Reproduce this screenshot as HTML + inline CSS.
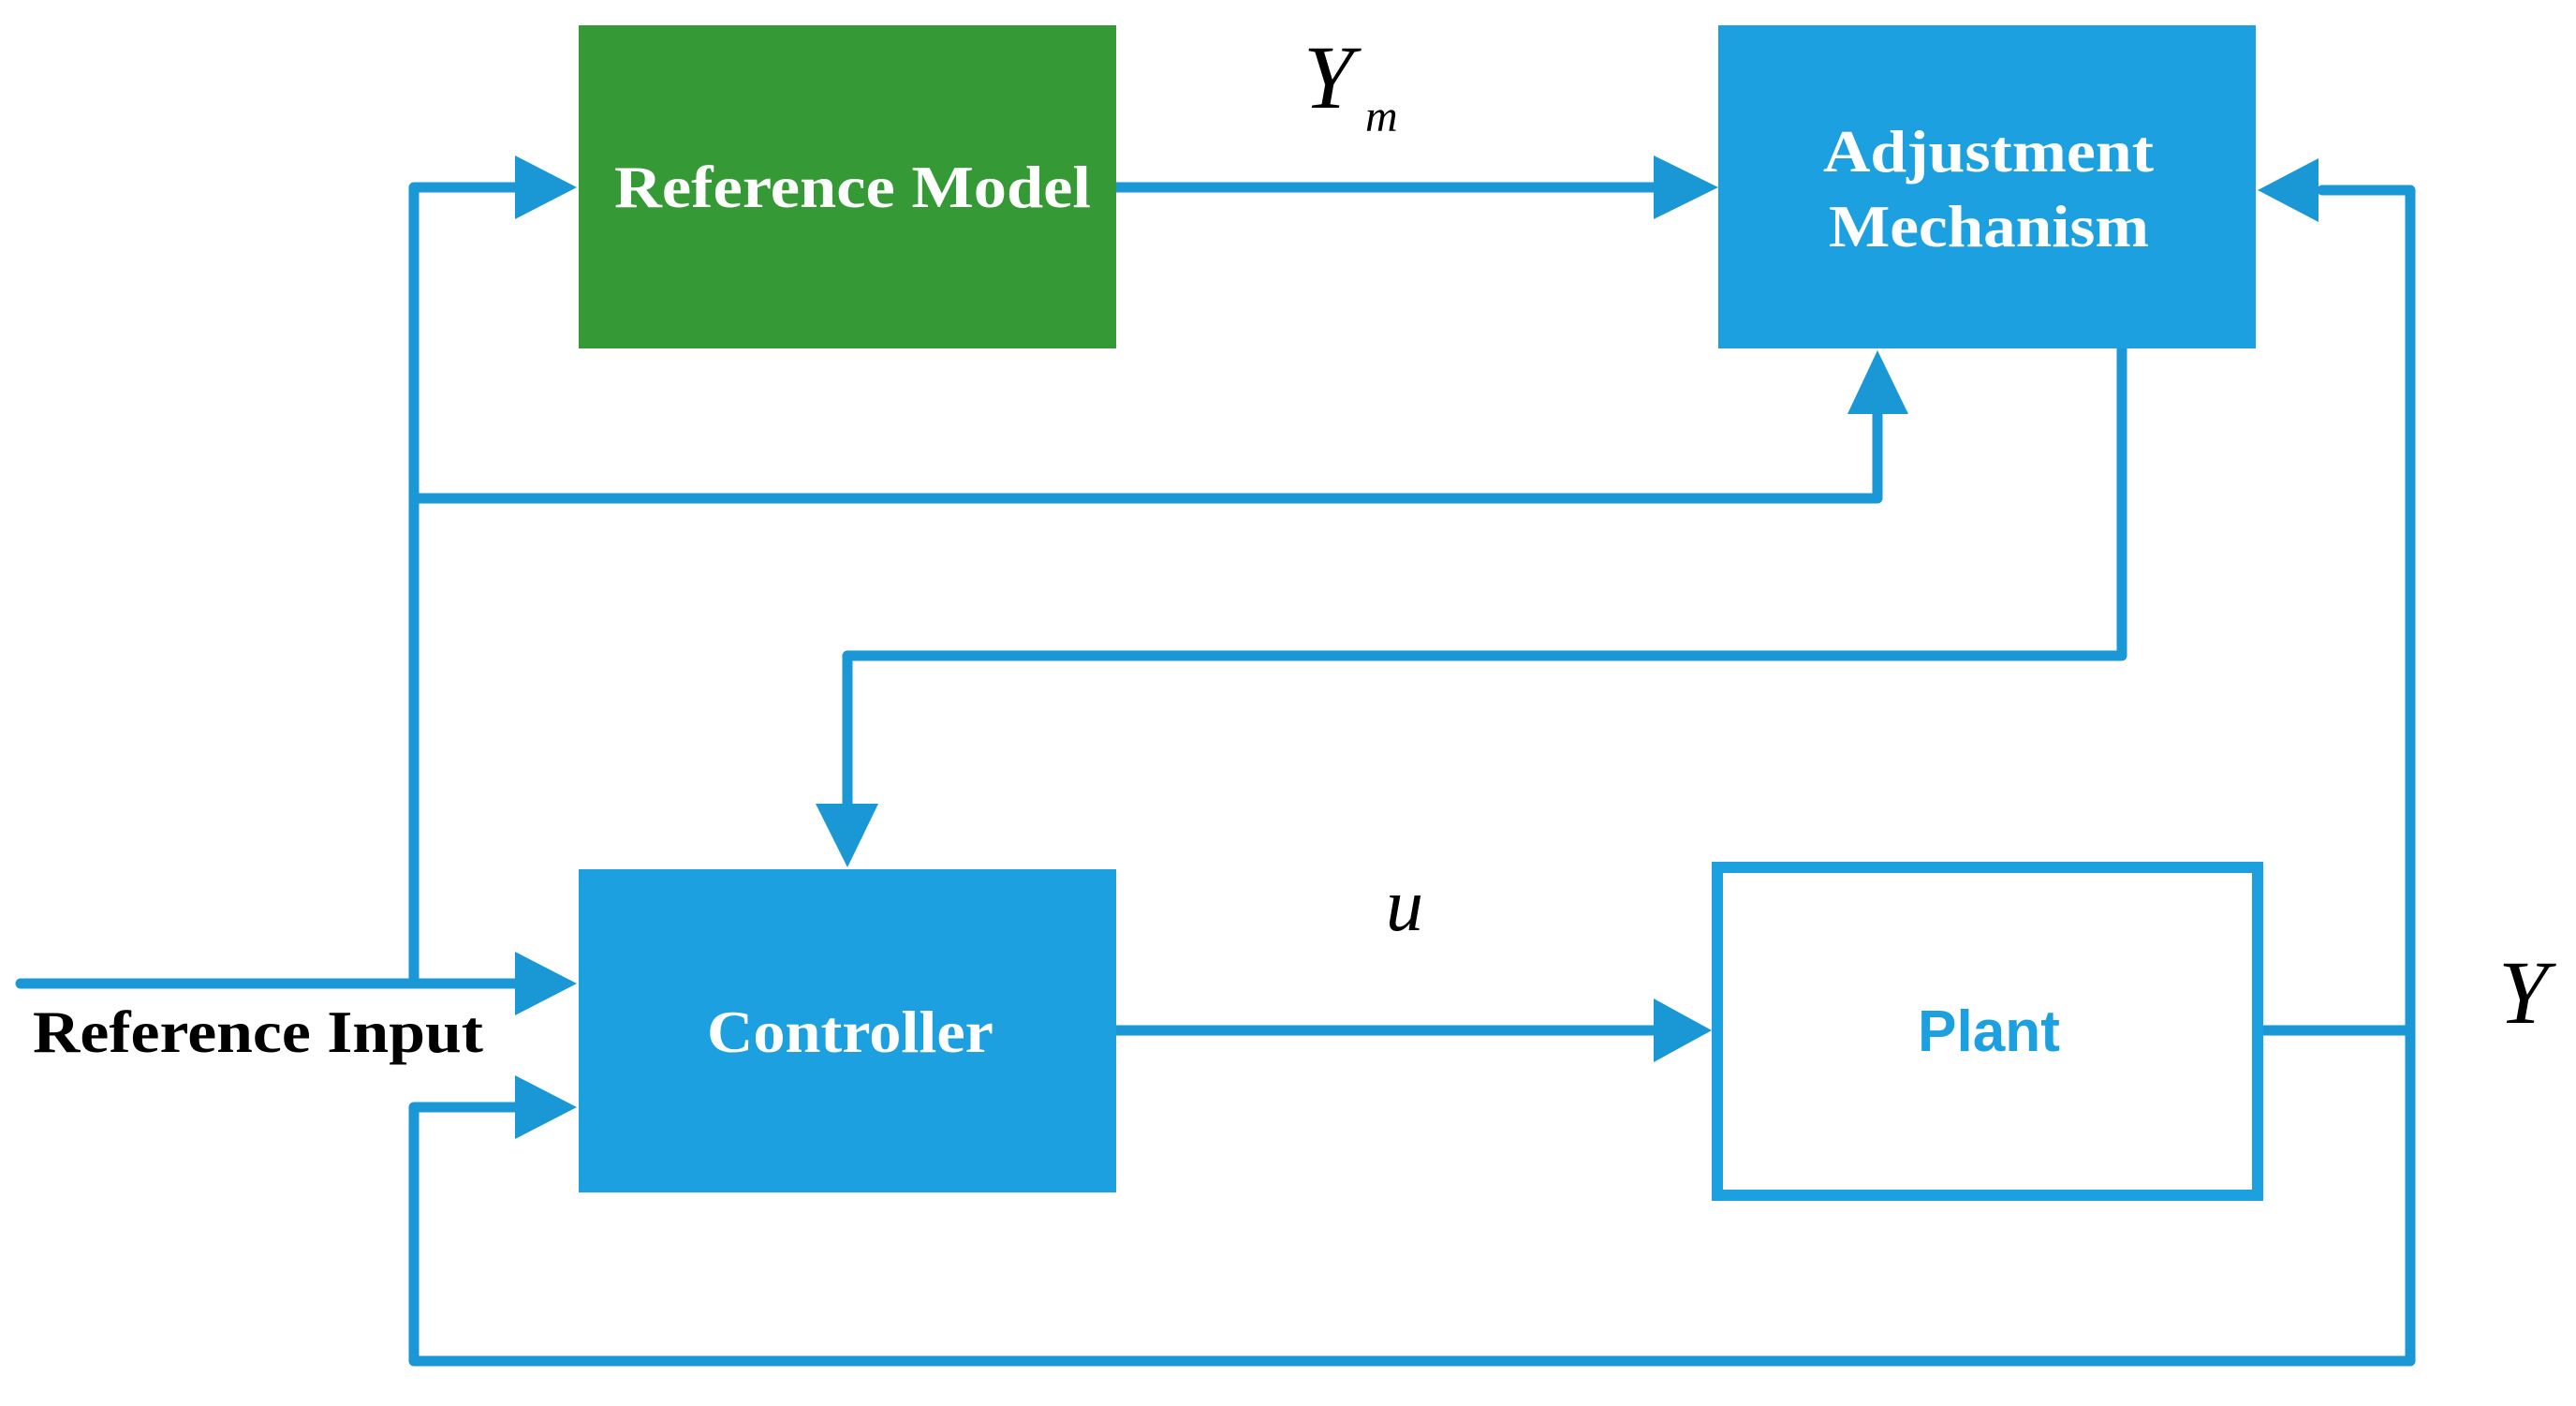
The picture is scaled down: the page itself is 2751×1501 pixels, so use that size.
<!DOCTYPE html>
<html><head><meta charset="utf-8"><style>html,body{margin:0;padding:0;background:#fff}svg{display:block}</style></head>
<body>
<svg width="2751" height="1501" viewBox="0 0 2751 1501" xmlns="http://www.w3.org/2000/svg">
<g fill="none" stroke="#1a98d5" stroke-width="11" stroke-linejoin="round" stroke-linecap="round">
<!-- left vertical from ref model arrow down to input -->
<polyline points="555,200 442,200 442,1050"/>
<!-- mid horizontal to adjustment bottom -->
<polyline points="442,532 2005,532 2005,440"/>
<!-- ref model to adjustment -->
<line x1="1192" y1="200" x2="1770" y2="200"/>
<!-- adjustment output to controller -->
<polyline points="2266,372 2266,700 905,700 905,860"/>
<!-- reference input -->
<line x1="22" y1="1050" x2="555" y2="1050"/>
<!-- controller to plant -->
<line x1="1192" y1="1100" x2="1770" y2="1100"/>
<!-- plant output -->
<line x1="2417" y1="1100" x2="2574" y2="1100"/>
<!-- right feedback -->
<polyline points="2480,203 2574,203 2574,1453 442,1453 442,1182 555,1182"/>
</g>
<g fill="#1a98d5">
<polygon points="550,166 550,234 616,200"/>
<polygon points="1766,166 1766,234 1835,200"/>
<polygon points="2476,169 2476,237 2411,203"/>
<polygon points="1973,442 2038,442 2005,374"/>
<polygon points="871,858 938,858 905,926"/>
<polygon points="550,1016 550,1084 616,1050"/>
<polygon points="550,1148 550,1216 616,1182"/>
<polygon points="1766,1066 1766,1134 1828,1100"/>
</g>
<rect x="618" y="27" width="574" height="345" fill="#359a35"/>
<rect x="1835" y="27" width="574" height="345" fill="#1da0e0"/>
<rect x="618" y="928" width="574" height="345" fill="#1da0e0"/>
<rect x="1834" y="926" width="577" height="350" fill="#fff" stroke="#1da0e0" stroke-width="12"/>
<g font-family="'Liberation Serif',serif" font-weight="bold" fill="#fff" font-size="64">
<text x="656" y="221" textLength="509" lengthAdjust="spacingAndGlyphs">Reference Model</text>
<text x="1947" y="183" textLength="353" lengthAdjust="spacingAndGlyphs">Adjustment</text>
<text x="1953" y="263" textLength="342" lengthAdjust="spacingAndGlyphs">Mechanism</text>
<text x="755" y="1123" textLength="306" lengthAdjust="spacingAndGlyphs">Controller</text>
<text x="35" y="1123" fill="#000" textLength="481" lengthAdjust="spacingAndGlyphs">Reference Input</text>
</g>
<text x="2048" y="1122" font-family="'Liberation Sans',sans-serif" font-weight="bold" font-size="62" fill="#1da0e0" textLength="152" lengthAdjust="spacingAndGlyphs">Plant</text>
<g font-family="'Liberation Serif',serif" font-style="italic" fill="#000">
<text x="1392" y="115" font-size="96">Y</text>
<text x="1458" y="140" font-size="48">m</text>
<text x="1480" y="993" font-size="80">u</text>
<text x="2668" y="1092" font-size="96">Y</text>
</g>
</svg>
</body></html>
